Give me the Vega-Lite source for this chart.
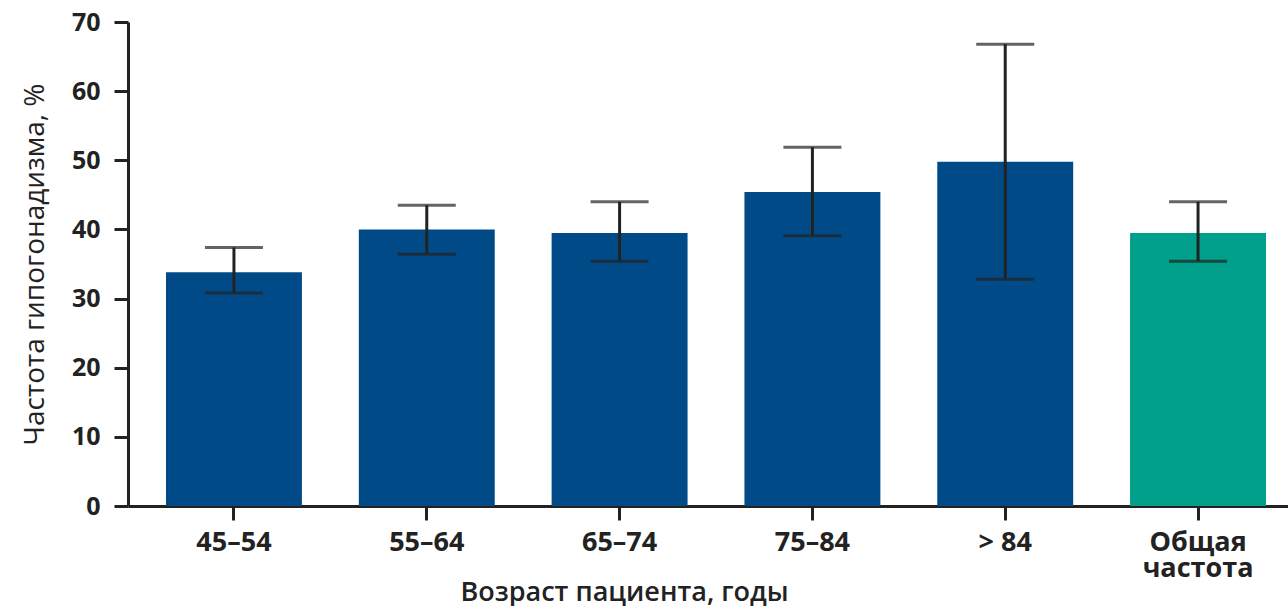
{
  "$schema": "https://vega.github.io/schema/vega-lite/v6.json",
  "width": 1160,
  "height": 484,
  "autosize": {"type": "none"},
  "padding": {"left": 128, "top": 22, "right": 0, "bottom": 100},
  "background": "white",
  "config": {
    "view": {"stroke": null},
    "font": "Open Sans"
  },
  "data": {
    "values": [
      {"age": "45–54", "value": 33.8, "lo": 30.8, "hi": 37.4, "group": "age"},
      {"age": "55–64", "value": 40.0, "lo": 36.4, "hi": 43.5, "group": "age"},
      {"age": "65–74", "value": 39.5, "lo": 35.4, "hi": 44.0, "group": "age"},
      {"age": "75–84", "value": 45.4, "lo": 39.1, "hi": 51.9, "group": "age"},
      {"age": "> 84", "value": 49.8, "lo": 32.8, "hi": 66.8, "group": "age"},
      {"age": "Общая частота", "value": 39.5, "lo": 35.4, "hi": 44.0, "group": "total"}
    ]
  },
  "encoding": {
    "x": {
      "field": "age",
      "type": "nominal",
      "sort": null,
      "scale": {"range": [0, 1176], "paddingInner": 0.295, "paddingOuter": 0.197},
      "axis": {
        "title": "Возраст пациента, годы",
        "titleFont": "Open Sans",
        "titleFontSize": 27,
        "titleFontWeight": 600,
        "titleColor": "#222",
        "titleX": 496,
        "titleY": 94,
        "titleAlign": "center",
        "titleBaseline": "alphabetic",
        "labelAngle": 0,
        "labelFont": "Open Sans",
        "labelFontSize": 27,
        "labelFontWeight": "bold",
        "labelColor": "#222",
        "labelPadding": 9,
        "labelLineHeight": 26,
        "labelExpr": "datum.label == 'Общая частота' ? ['Общая', 'частота'] : datum.label",
        "tickSize": 14,
        "tickWidth": 3,
        "tickColor": "#222",
        "domainColor": "#222",
        "domainWidth": 3,
        "grid": false
      }
    }
  },
  "layer": [
    {
      "mark": {"type": "bar"},
      "encoding": {
        "y": {
          "field": "value",
          "type": "quantitative",
          "scale": {"domain": [0, 70], "nice": false},
          "axis": {
            "title": "Частота гипогонадизма, %",
            "titleFont": "Open Sans",
            "titleFontSize": 28,
            "titleFontWeight": "normal",
            "titleColor": "#222",
            "titlePadding": 22,
            "values": [0, 10, 20, 30, 40, 50, 60, 70],
            "labelFont": "Open Sans",
            "labelFontSize": 25,
            "labelFontWeight": "bold",
            "labelColor": "#222",
            "labelPadding": 14,
            "tickSize": 14,
            "tickWidth": 3,
            "tickColor": "#222",
            "domainColor": "#222",
            "domainWidth": 3,
            "grid": false
          }
        },
        "color": {
          "field": "group",
          "type": "nominal",
          "scale": {"domain": ["age", "total"], "range": ["#004b87", "#00a08a"]},
          "legend": null
        }
      }
    },
    {
      "mark": {"type": "rule", "color": "#222", "strokeWidth": 3},
      "encoding": {
        "y": {"field": "lo", "type": "quantitative"},
        "y2": {"field": "hi"}
      }
    },
    {
      "mark": {"type": "tick", "color": "#222", "thickness": 3, "size": 58},
      "encoding": {
        "y": {"field": "lo", "type": "quantitative"}
      }
    },
    {
      "mark": {"type": "tick", "color": "#222", "thickness": 3, "size": 58},
      "encoding": {
        "y": {"field": "hi", "type": "quantitative"}
      }
    }
  ]
}
